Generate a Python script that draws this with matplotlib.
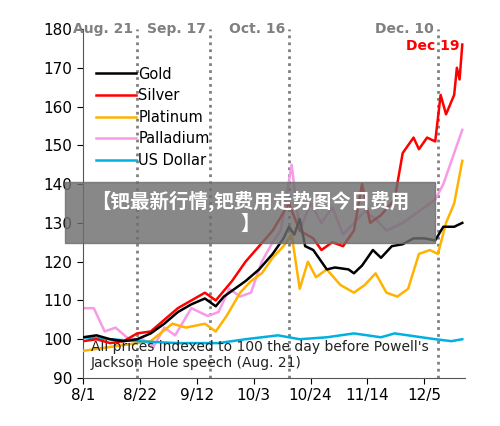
import matplotlib
matplotlib.use("Agg")
import matplotlib.pyplot as plt
from matplotlib.patches import Rectangle

gold_d = [0,5,10,15,20,25,30,35,40,45,49,52,56,60,65,70,74,76,78,80,82,85,90,93,98,100,103,107,110,114,118,122,126,130,133,137,140]
gold_v = [100.5,101,100,99.5,100,101.5,104,107,109,110.5,108.5,111,113,115,118,122,126,129,127,131,124,123,118,118.5,118,117,119,123,121,124,124.5,126,126,125.5,129,129,130]
silver_d = [0,5,10,15,20,25,30,35,40,45,49,55,60,65,70,76,80,85,88,92,96,100,103,106,110,115,118,122,124,127,130,132,134,137,138,139,140]
silver_v = [99.5,100,99,99.5,101.5,102,105,108,110,112,110,115,120,124,128,135,128,126,123,125,124,128,140,130,132,136,148,152,149,152,151,163,158,163,170,167,176]
plat_d = [0,5,10,20,25,33,38,45,49,53,58,62,66,70,74,77,80,83,86,90,95,100,104,108,112,116,120,124,128,131,134,137,140]
plat_v = [97,97.5,98,99,99.5,104,103,104,102,106,112,115,117,121,124,127,113,120,116,118,114,112,114,117,112,111,113,122,123,122,130,135,146]
pall_d = [0,4,8,12,17,22,26,30,34,40,46,50,54,58,62,66,70,73,77,80,84,88,92,96,100,104,108,112,118,124,130,133,137,140]
pall_v = [108,108,102,103,100,100,98,103,101,108,106,107,113,111,112,120,125,128,145,128,135,130,134,127,130,133,131,128,130,133,136,140,148,154]
usd_d = [0,10,20,35,50,60,72,80,90,100,110,115,125,130,136,140]
usd_v = [100.5,100,99.5,99,99,100,101,100,100.5,101.5,100.5,101.5,100.5,100,99.5,100]
tick_days = [0,21,42,63,84,105,126]
tick_labels = ["8/1","8/22","9/12","10/3","10/24","11/14","12/5"]
events_d = [20,47,76,131]
events_l = ["Aug. 21","Sep. 17","Oct. 16","Dec. 10"]

fig = plt.figure(figsize=(5,4.26), dpi=100)
ax = fig.add_axes([83/500, 48/426, 382/500, 349/426])
ax.plot(gold_d, gold_v, color="black", lw=1.8, label="Gold", zorder=5)
ax.plot(silver_d, silver_v, color="#ff0000", lw=1.8, label="Silver", zorder=4)
ax.plot(plat_d, plat_v, color="#ffb300", lw=1.8, label="Platinum", zorder=3)
ax.plot(pall_d, pall_v, color="#f79ae8", lw=1.8, label="Palladium", zorder=2)
ax.plot(usd_d, usd_v, color="#00b0e0", lw=1.8, label="US Dollar", zorder=3)
for d, l in zip(events_d, events_l):
    ax.axvline(d, color="#808080", ls=(0,(1,1.5)), lw=2, zorder=1)
    ax.text(d-1.5, 180, l, ha="right", va="center", color="#808080", fontsize=10, fontweight="bold")
ax.text(139, 175.5, "Dec 19", ha="right", va="center", color="#ff0000", fontsize=10, fontweight="bold")
ax.text(3, 96, "All prices indexed to 100 the day before Powell's\nJackson Hole speech (Aug. 21)", fontsize=10, va="center", color="#222222")
ax.set_xlim(0,141)
ax.set_ylim(90,180)
ax.set_yticks(range(90,181,10))
ax.set_xticks(tick_days)
ax.set_xticklabels(tick_labels)
ax.tick_params(labelsize=11, length=4, direction="out")
for s in ["top","right"]:
    ax.spines[s].set_visible(False)
ax.spines["left"].set_color("#555555")
ax.spines["bottom"].set_color("#555555")
ax.legend(loc="upper left", bbox_to_anchor=(0.0, 0.93), frameon=False, fontsize=10.5, handlelength=2.7, handletextpad=0.2, labelspacing=0.45)
fig.patches.append(Rectangle((65/500, 1-243/426), 370/500, 61/426, transform=fig.transFigure, color="#6e6e6e", alpha=0.82, zorder=10))
fig.text(250/500, 1-212/426, "【钯最新行情,钯费用走势图今日费用\n】", ha="center", va="center", color="white", fontsize=14, fontweight="bold", family=["Noto Sans CJK SC","DejaVu Sans"], zorder=11, linespacing=1.2)
fig.savefig("out.png")
